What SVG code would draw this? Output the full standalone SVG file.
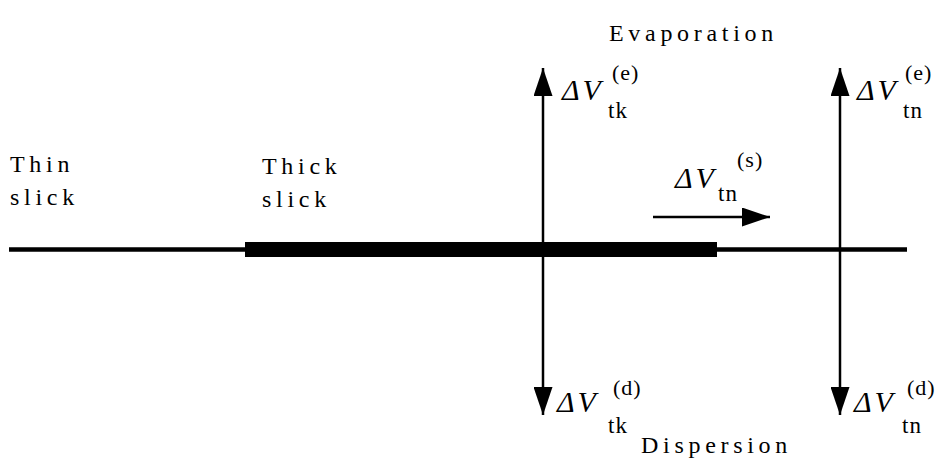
<svg xmlns="http://www.w3.org/2000/svg" width="940" height="460" viewBox="0 0 940 460">
  <style>
    text { font-family: 'Liberation Serif', 'Times New Roman', serif; fill: #000; }
    .lbl { font-size: 24px; letter-spacing: 4.7px; }
    .dv { font-size: 30px; font-style: italic; letter-spacing: 3px; }
    .sub { font-size: 23px; letter-spacing: 1px; }
    .sup { font-size: 22px; letter-spacing: 1px; }
    .ln { stroke: #000; stroke-width: 2.5; fill: none; }
  </style>
  <defs>
    <marker id="ah" markerUnits="userSpaceOnUse" markerWidth="28" markerHeight="19" refX="28" refY="9.5" orient="auto" viewBox="0 0 28 19">
      <path d="M0,0 L28,9.5 L0,19 Z" fill="#000"/>
    </marker>
  </defs>

  <g id="slick">
    <line x1="9" y1="249.5" x2="907" y2="249.5" stroke="#000" stroke-width="4.5"/>
    <rect x="245" y="242" width="472" height="15" fill="#000"/>
  </g>

  <g id="connectors">
    <line class="ln" x1="543" y1="249" x2="543" y2="68" marker-end="url(#ah)"/>
    <line class="ln" x1="543" y1="249" x2="543" y2="415" marker-end="url(#ah)"/>
    <line class="ln" x1="840" y1="249" x2="840" y2="68" marker-end="url(#ah)"/>
    <line class="ln" x1="840" y1="249" x2="840" y2="415" marker-end="url(#ah)"/>
    <line class="ln" x1="653" y1="217" x2="770" y2="217" marker-end="url(#ah)"/>
  </g>

  <g id="thin-slick">
    <text class="lbl" x="10" y="172">Thin</text>
    <text class="lbl" x="10" y="205">slick</text>
  </g>
  <g id="thick-slick">
    <text class="lbl" x="262" y="174">Thick</text>
    <text class="lbl" x="262" y="207">slick</text>
  </g>
  <g id="evaporation">
    <text class="lbl" x="609" y="41">Evaporation</text>
  </g>
  <g id="dispersion">
    <text class="lbl" x="641" y="453">Dispersion</text>
  </g>

  <g id="dv-tk-e">
    <text class="dv" x="562" y="100">ΔV</text>
    <text class="sub" x="608" y="118">tk</text>
    <text class="sup" x="612" y="80">(e)</text>
  </g>
  <g id="dv-tn-e">
    <text class="dv" x="857" y="100">ΔV</text>
    <text class="sub" x="903" y="118">tn</text>
    <text class="sup" x="905" y="80">(e)</text>
  </g>
  <g id="dv-tk-d">
    <text class="dv" x="557" y="412">ΔV</text>
    <text class="sub" x="608" y="433">tk</text>
    <text class="sup" x="613" y="395">(d)</text>
  </g>
  <g id="dv-tn-d">
    <text class="dv" x="854" y="412">ΔV</text>
    <text class="sub" x="902" y="433">tn</text>
    <text class="sup" x="907" y="395">(d)</text>
  </g>
  <g id="dv-tn-s">
    <text class="dv" x="675" y="188">ΔV</text>
    <text class="sub" x="718" y="201">tn</text>
    <text class="sup" x="737" y="167">(s)</text>
  </g>
</svg>
